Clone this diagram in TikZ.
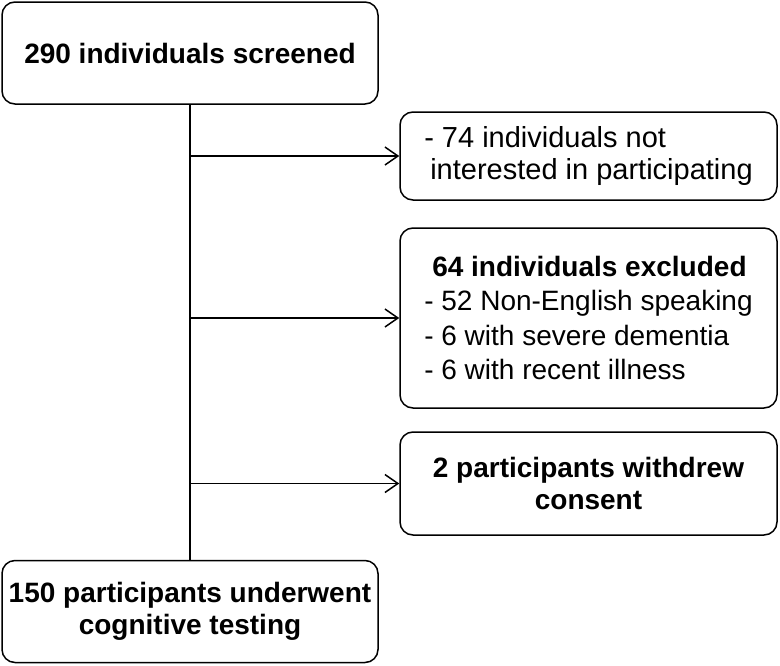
\documentclass[tikz,border=0pt]{standalone}
\usepackage{fontspec}
\setmainfont{Liberation Sans}
\usetikzlibrary{arrows.meta}
\begin{document}
\begin{tikzpicture}[x=1pt,y=-1pt,
  box/.style={draw, line width=1.5pt, rounded corners=13pt, inner sep=0pt, align=center},
  conn/.style={line width=1.5pt},
  arr/.style={conn, -{Straight Barb[length=13pt,width=18pt,line width=1.5pt]}},
  bigtext/.style={font=\fontsize{28}{32}\selectfont\bfseries},
  regtext/.style={font=\fontsize{29}{32}\selectfont},
  listtext/.style={font=\fontsize{28}{34.5}\selectfont}]
\useasboundingbox (0,0) rectangle (780,665);
\node[box, bigtext, minimum width=376pt, minimum height=102pt] (b1) at (190,53) {290 individuals screened};
\node[box, regtext, align=left, minimum width=377pt, minimum height=88pt] (b2) at (588.5,156)
  {- 74 individuals not\\\hspace*{6pt}interested in participating};
\node[box, listtext, align=left, minimum width=377pt, minimum height=180pt] (b3) at (588.5,318)
  {\hspace*{8pt}\textbf{64 individuals excluded}\\
   - 52 Non-English speaking\\- 6 with severe dementia\\- 6 with recent illness};
\node[box, bigtext, minimum width=377pt, minimum height=103pt] (b4) at (588.5,483.5) {2 participants withdrew\\consent};
\node[box, bigtext, minimum width=376pt, minimum height=102pt] (b5) at (190,611.5) {150 participants underwent\\cognitive testing};
\draw[conn] (b1.south) -- (b5.north);
\coordinate (j2) at (b1.south |- b2.west);
\coordinate (j3) at (b1.south |- b3.west);
\coordinate (j4) at (b1.south |- b4.west);
\draw[arr] (j2) -- (b2.west);
\draw[arr] (j3) -- (b3.west);
\draw[arr] (j4) -- (b4.west);
\end{tikzpicture}
\end{document}
